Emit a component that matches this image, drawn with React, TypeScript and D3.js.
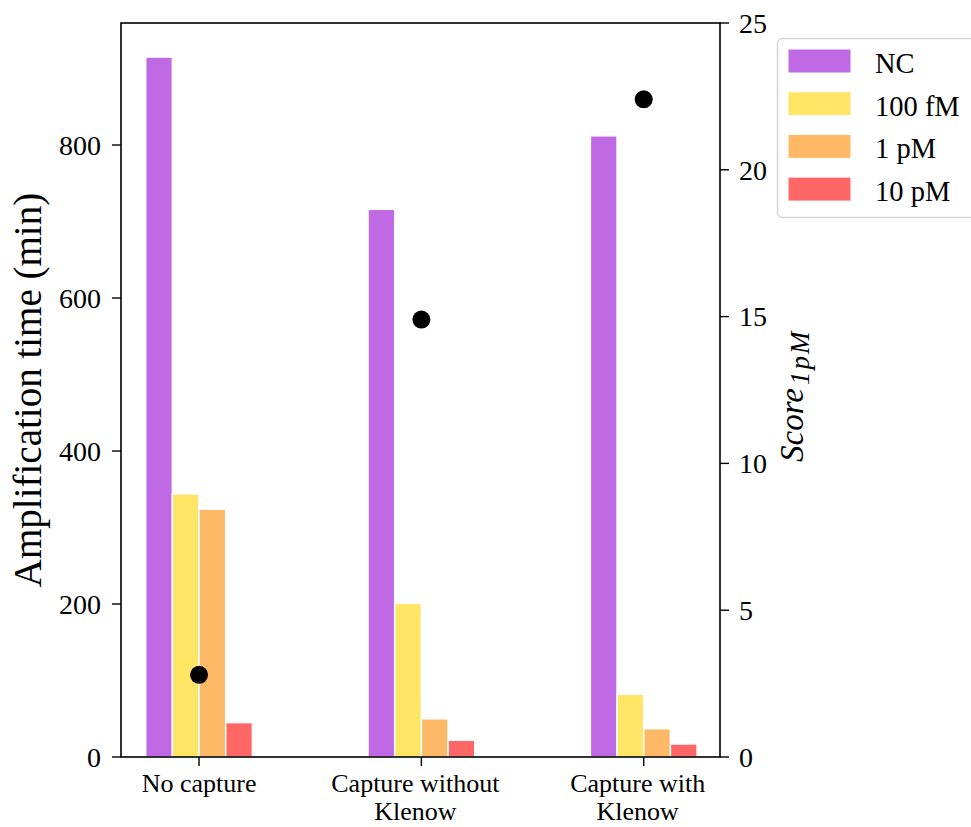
import React from "react";
import * as d3 from "d3";

const categories = ["No capture", "Capture without|Klenow", "Capture with|Klenow"];
const seriesNames = ["NC", "100 fM", "1 pM", "10 pM"];
const seriesColors = ["#c069e4", "#ffe566", "#ffb966", "#ff6666"];
const ncValues = [915, 716, 812];
const fm100Values = [344, 201, 82];
const pm1Values = [324, 50, 37];
const pm10Values = [45, 22, 17];
const scoreValues = [2.8, 14.9, 22.4];
const leftTicks = [0, 200, 400, 600, 800];
const rightTicks = [0, 5, 10, 15, 20, 25];

const W = 971;
const H = 827;
const left = 121;
const right = 720;
const top = 23;
const bottom = 757;
const FONT = "'Liberation Serif', 'Times New Roman', serif";

export default function App() {
  const series = [ncValues, fm100Values, pm1Values, pm10Values];
  const x = d3.scaleLinear().domain([-0.351, 2.343]).range([left, right]);
  const yL = d3.scaleLinear().domain([0, 959.5]).range([bottom, top]);
  const yR = d3.scaleLinear().domain([0, 25]).range([bottom, top]);
  const bw = 0.12;

  return (
    <div style={{ position: "fixed", left: 0, top: 0, width: W, height: H, background: "#fff" }}>
      <svg width={W} height={H} style={{ display: "block" }} fontFamily={FONT}>
        <rect x={0} y={0} width={W} height={H} fill="#fff" />
        {/* bars */}
        {series.map((vals, si) =>
          vals.map((v, ci) => {
            const x0 = x(ci + (si - 2) * bw);
            const x1 = x(ci + (si - 1) * bw);
            return (
              <rect
                key={`b${si}-${ci}`}
                x={x0}
                y={yL(v)}
                width={x1 - x0}
                height={yL(0) - yL(v)}
                fill={seriesColors[si]}
                stroke="#fff"
                strokeWidth={1.5}
              />
            );
          })
        )}
        {/* score dots */}
        {scoreValues.map((s, i) => (
          <circle key={`d${i}`} cx={x(i)} cy={yR(s)} r={9} fill="#000" />
        ))}
        {/* frame */}
        <rect x={left} y={top} width={right - left} height={bottom - top} fill="none" stroke="#000" strokeWidth={1.6} />
        {/* left ticks */}
        {leftTicks.map((t) => (
          <g key={`lt${t}`}>
            <line x1={left - 9} x2={left} y1={yL(t)} y2={yL(t)} stroke="#000" strokeWidth={1.4} />
            <text x={left - 20} y={yL(t)} dy="0.35em" textAnchor="end" fontSize={28}>
              {t}
            </text>
          </g>
        ))}
        {/* right ticks */}
        {rightTicks.map((t) => (
          <g key={`rt${t}`}>
            <line x1={right} x2={right + 9} y1={yR(t)} y2={yR(t)} stroke="#000" strokeWidth={1.4} />
            <text x={right + 19} y={yR(t)} dy="0.35em" textAnchor="start" fontSize={28}>
              {t}
            </text>
          </g>
        ))}
        {/* x ticks */}
        {categories.map((c, i) => (
          <g key={`xt${i}`}>
            <line x1={x(i)} x2={x(i)} y1={bottom} y2={bottom + 9} stroke="#000" strokeWidth={1.4} />
            {c.split("|").map((line, li) => (
              <text key={li} x={x(i) - 6 * (i > 0 ? 1 : 0)} y={792 + li * 28} textAnchor="middle" fontSize={26}>
                {line}
              </text>
            ))}
          </g>
        ))}
        {/* left label */}
        <text transform={`translate(41, ${(top + bottom) / 2}) rotate(-90)`} textAnchor="middle" fontSize={39}>
          Amplification time (min)
        </text>
        {/* right label */}
        <g transform="translate(803, 462) rotate(-90)">
          <text x={0} y={0} fontSize={33} fontStyle="italic" textLength={74} lengthAdjust="spacingAndGlyphs">
            Score
          </text>
          <text x={77} y={6} fontSize={27} fontStyle="italic" letterSpacing={2}>
            1pM
          </text>
        </g>
        {/* legend */}
        <rect x={777.5} y={38.5} width={220} height={179} rx={5} fill="#fff" fillOpacity={0.8} stroke="#d6d6d6" strokeWidth={1.5} />
        {seriesNames.map((n, i) => {
          const yy = 49 + i * 42.7;
          return (
            <g key={`lg${i}`}>
              <rect x={788} y={yy} width={63} height={24} fill={seriesColors[i]} stroke="#fff" strokeWidth={1} />
              <text x={875} y={yy + 24} fontSize={28.5}>
                {n}
              </text>
            </g>
          );
        })}
      </svg>
    </div>
  );
}
